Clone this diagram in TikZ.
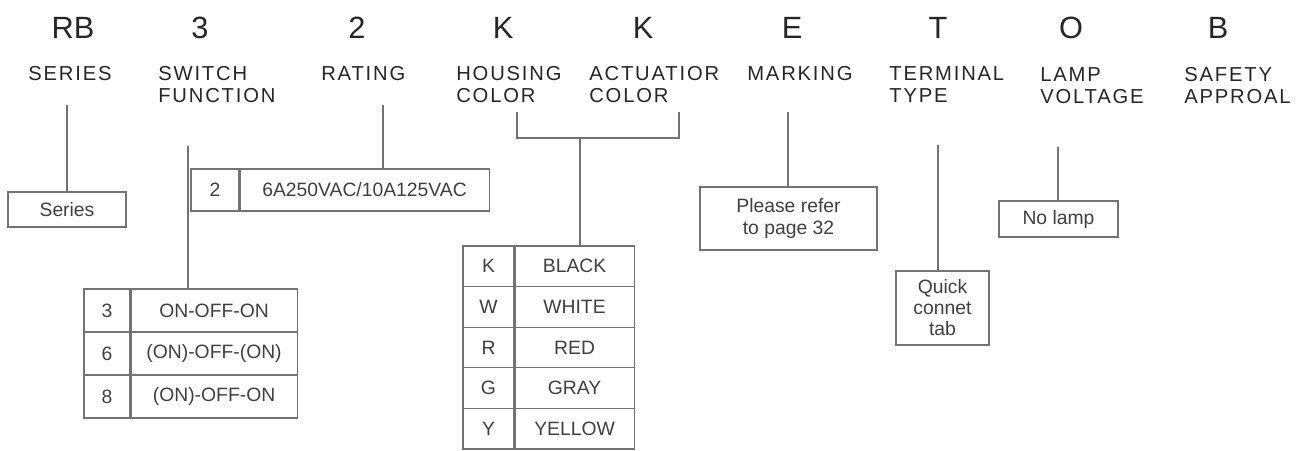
\documentclass[tikz,border=0pt]{standalone}
\usepackage{fontspec}
\setmainfont{Liberation Sans}
\newfontfamily\lblfont[LetterSpace=9]{Liberation Sans}
\newlength\px \setlength\px{0.02cm}
\tikzset{
  codice/.style={font=\fontsize{17.5}{20}\selectfont, text=black!85},
  voce/.style={anchor=base west, inner sep=0pt, align=left, font=\lblfont\fontsize{11.5}{12.5}\selectfont, text=black!85},
  casella/.style={draw=black!55, line width=0.6pt, inner sep=0pt, align=center, font=\fontsize{11}{12}\selectfont, text=black!75},
  filo/.style={draw=black!55, line width=0.6pt},
}
\begin{document}
\begin{tikzpicture}[x=0.02cm, y=-0.02cm]
  \useasboundingbox (0,0) rectangle (1299,450);
  % Codice
  \foreach \t/\x [count=\i] in {RB/73, 3/200, 2/357, K/503, K/643, E/792, T/938, O/1071, B/1218}
    \node[codice] (cod\i) at (\x,28) {\t};
  % Voci (base = ultima riga)
  \node[voce] (lser) at (28,80) {SERIES};
  \node[voce] (lfun) at (158,102) {SWITCH\\FUNCTION};
  \node[voce] (lrat) at (321,80) {RATING};
  \node[voce] (lhou) at (456,102) {HOUSING\\COLOR};
  \node[voce] (lact) at (589,102) {ACTUATIOR\\COLOR};
  \node[voce] (lmar) at (747,80) {MARKING};
  \node[voce] (lter) at (889,102) {TERMINAL\\TYPE};
  \node[voce] (llam) at (1040,103) {LAMP\\VOLTAGE};
  \node[voce] (lsaf) at (1184,103) {SAFETY\\APPROAL};
  % Caselle
  \node[casella, minimum width={118*\px}, minimum height={35*\px}] (ser) at (67,209.5) {Series};
  \node[casella, minimum width={48*\px}, minimum height={42*\px}] (rat-c) at (215,190) {2};
  \node[casella, minimum width={249*\px}, minimum height={42*\px}, anchor=west] (rat-d) at (rat-c.east) {6A250VAC/10A125VAC};
  \node[casella, minimum width={177*\px}, minimum height={63*\px}] (mar) at (788.5,218.5) {Please refer\\to page 32};
  \node[casella, minimum width={93*\px}, minimum height={74*\px}] (ter) at (942.5,308) {Quick\\connet\\tab};
  \node[casella, minimum width={119*\px}, minimum height={36*\px}] (lam) at (1058.5,219) {No lamp};
  % Tabelle
  \foreach \c/\d [count=\i] in {3/ON-OFF-ON, 6/{(ON)-OFF-(ON)}, 8/{(ON)-OFF-ON}} {
    \node[casella, minimum width={46*\px}, minimum height={43*\px}] (sw-c\i) at (107,{289+43*(\i-0.5)}) {\c};
    \node[casella, minimum width={166*\px}, minimum height={43*\px}, anchor=west] (sw-d\i) at (sw-c\i.east) {\d};
  }
  \foreach \c/\d [count=\i] in {K/BLACK, W/WHITE, R/RED, G/GRAY, Y/YELLOW} {
    \node[casella, minimum width={51*\px}, minimum height={40.6*\px}] (col-c\i) at (488.5,{246+40.6*(\i-0.5)}) {\c};
    \node[casella, minimum width={119*\px}, minimum height={40.6*\px}, anchor=west] (col-d\i) at (col-c\i.east) {\d};
  }
  % Fili
  \coordinate (ser-t) at (67,105);
  \coordinate (fun-t) at (188,146);
  \coordinate (rat-t) at (383,105);
  \coordinate (hou-t) at (517,112);
  \coordinate (act-t) at (679,112);
  \coordinate (col-m) at (580,138);
  \coordinate (mar-t) at (788,112);
  \coordinate (ter-t) at (938,145);
  \coordinate (lam-t) at (1058,147);
  \draw[filo] (ser-t) -- (ser.north);
  \draw[filo] (fun-t) -- (fun-t |- sw-d1.north);
  \draw[filo] (rat-t) -- (rat-t |- rat-d.north);
  \draw[filo] (hou-t) |- (col-m) -| (act-t);
  \draw[filo] (col-m) -- (col-m |- col-d1.north);
  \draw[filo] (mar-t) -- (mar-t |- mar.north);
  \draw[filo] (ter-t) -- (ter-t |- ter.north);
  \draw[filo] (lam-t) -- (lam-t |- lam.north);
\end{tikzpicture}
\end{document}
